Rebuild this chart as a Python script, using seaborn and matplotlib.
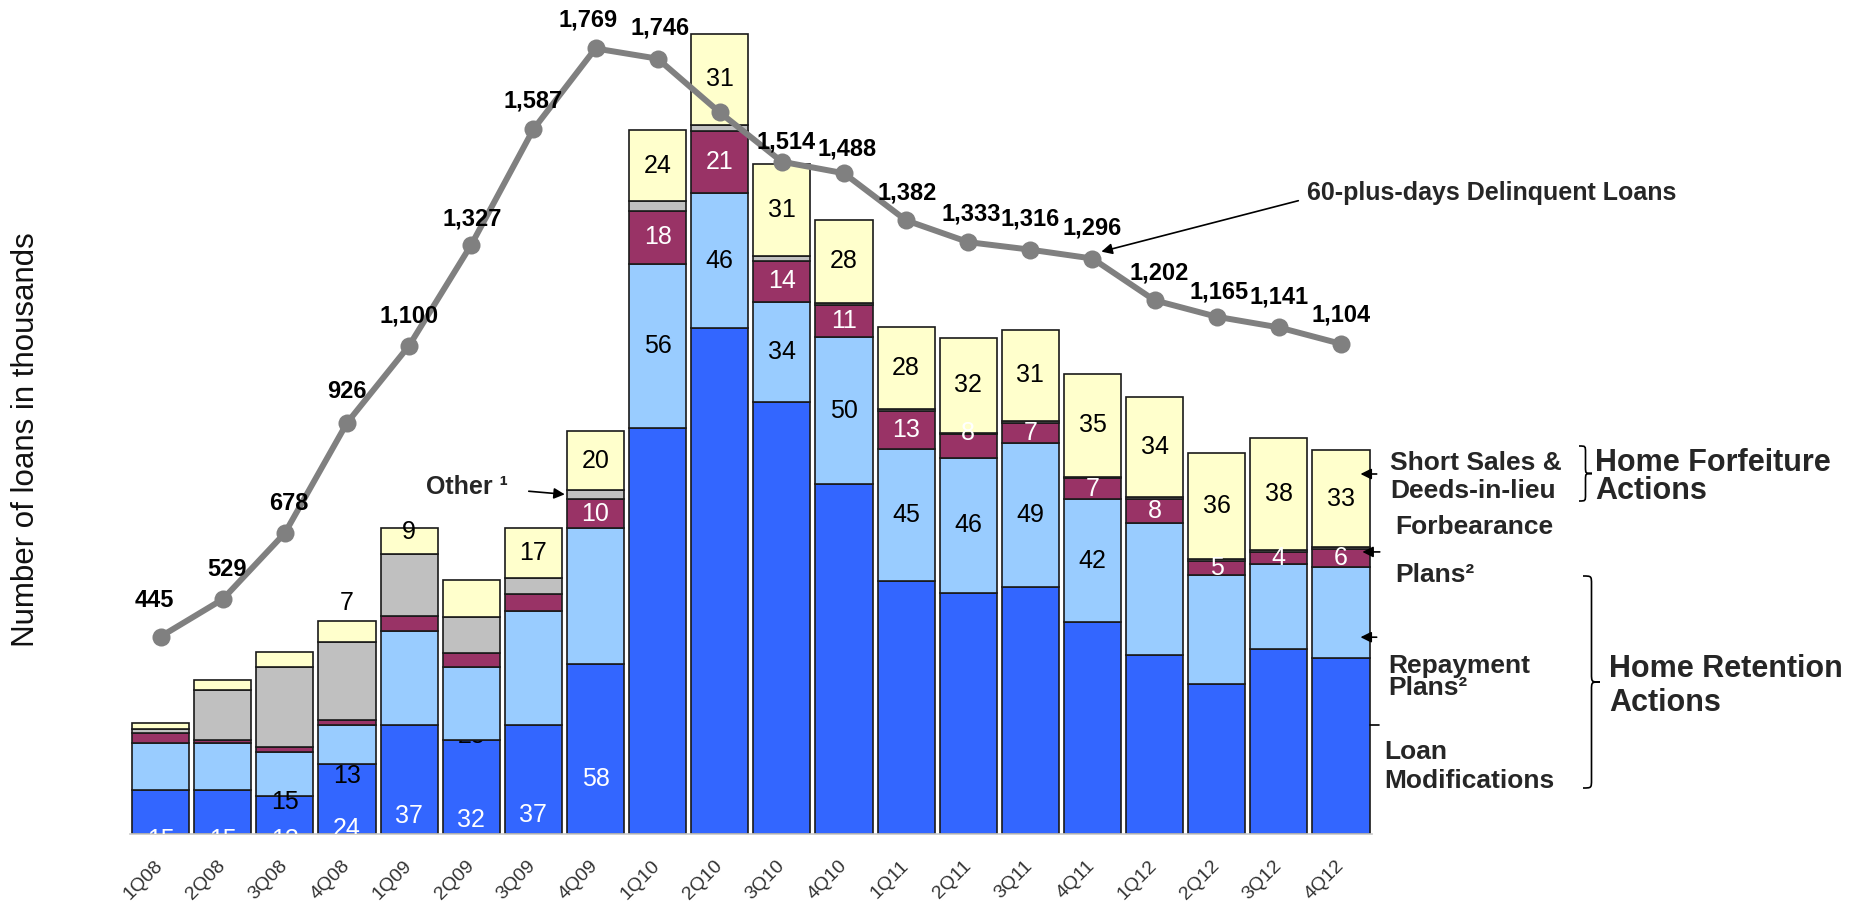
import numpy as np
import pandas as pd
import matplotlib
matplotlib.use("Agg")
import matplotlib.pyplot as plt
import seaborn as sns
from matplotlib.path import Path
from matplotlib.patches import PathPatch

# ---- data (loans in thousands) ----
quarters = ["1Q08", "2Q08", "3Q08", "4Q08", "1Q09", "2Q09", "3Q09", "4Q09",
            "1Q10", "2Q10", "3Q10", "4Q10", "1Q11", "2Q11", "3Q11", "4Q11",
            "1Q12", "2Q12", "3Q12", "4Q12"]
loan_modifications = [15, 15, 13, 24, 37, 32, 37, 58, 138, 172, 147, 119, 86, 82, 84, 72, 61, 51, 63, 60]
repayment_plans = [16, 16, 15, 13, 32, 25, 39, 46, 56, 46, 34, 50, 45, 46, 49, 42, 45, 37, 29, 31]
forbearance_plans = [3.5, 1.2, 1.7, 2, 5.3, 4.6, 5.7, 10, 18, 21, 14, 11, 13, 8, 7, 7, 8, 5, 4, 6]
other_actions = [1.2, 17, 27.3, 26.4, 21, 12.4, 5.3, 3, 3.4, 2.3, 1.8, 0.8, 0.6, 0.6, 0.6, 0.6, 0.6, 0.6, 0.6, 0.6]
short_sales_dil = [2.1, 3.3, 5.1, 7, 9, 12.4, 17, 20, 24, 31, 31, 28, 28, 32, 31, 35, 34, 36, 38, 33]
delinquent_60plus = [445, 529, 678, 926, 1100, 1327, 1587, 1769, 1746, 1625, 1514, 1488,
                     1382, 1333, 1316, 1296, 1202, 1165, 1141, 1104]

# which segments carry a value label
lm_labeled = [0, 1, 2, 3, 4, 5, 6, 7]
rp_labeled = [2, 3, 5, 8, 9, 10, 11, 12, 13, 14, 15]
fb_labeled = list(range(7, 20))
ss_labeled = [3, 4, 6] + list(range(7, 20))
delinquent_labeled = [i for i in range(20) if i != 9]

# ---- styling ----
W, H, DPI = 1866, 906, 100
C_LM = "#3366FF"
C_RP = "#99CCFF"
C_FB = "#993366"
C_OT = "#C0C0C0"
C_SS = "#FFFFCC"
C_LINE = "#808080"
EDGE = "#1a1a1a"

sns.set_style("white")
plt.rcParams["font.family"] = ["Liberation Sans", "DejaVu Sans"]

df = pd.DataFrame({
    "quarter": quarters,
    "lm": loan_modifications,
    "rp": repayment_plans,
    "fb": forbearance_plans,
    "ot": other_actions,
    "ss": short_sales_dil,
    "dq": delinquent_60plus,
})

fig = plt.figure(figsize=(W / DPI, H / DPI), dpi=DPI)
x_left, x_right, base_y = 129.6, 1372.0, 834.2
ax = fig.add_axes([x_left / W, (H - base_y) / H, (x_right - x_left) / W, base_y / H])

series = [("lm", C_LM, 2), ("rp", C_RP, 3), ("fb", C_FB, 3), ("ot", C_OT, 3), ("ss", C_SS, 3)]
bottom = np.zeros(len(df))
bottoms = {}
for key, col, z in series:
    bottoms[key] = bottom.copy()
    sns.barplot(data=df, x="quarter", y=key, color=col, saturation=1, width=0.92,
                edgecolor=EDGE, linewidth=1.2, errorbar=None, ax=ax,
                bottom=bottom.copy(), zorder=z)
    bottom = bottom + df[key].to_numpy()

BAR_TOP = 283.7
ax.set_xlim(-0.5, 19.5)
ax.set_ylim(0, BAR_TOP)
ax.set_xlabel("")
ax.set_ylabel("")
ax.set_yticks([])
for s in ["left", "right", "top"]:
    ax.spines[s].set_visible(False)
ax.spines["bottom"].set_color("#C8C8C8")
ax.spines["bottom"].set_linewidth(1.2)
ax.set_xticks(range(len(quarters)))
ax.set_xticklabels(quarters, rotation=45, ha="right", va="center",
                   rotation_mode="anchor", fontsize=14, color="#333333")
ax.tick_params(axis="x", which="major", length=0, pad=21)
ax.set_xticks(np.arange(-0.5, 20, 1), minor=True)
ax.tick_params(axis="x", which="minor", length=8, width=1, color="#C8C8C8", direction="out")

# ---- value labels inside the bars ----
label_y = {
    ("lm", 0): -1.9, ("lm", 1): -1.9, ("lm", 2): -1.9, ("lm", 3): 1.7,
    ("lm", 4): 6.3, ("lm", 5): 4.8, ("lm", 6): 6.6, ("lm", 7): 18.7,
    ("rp", 2): 10.8, ("rp", 3): 19.9, ("rp", 5): 33.5,
    ("ss", 3): 78.6, ("ss", 4): 102.8,
    ("fb", 13): 136.5,
}
label_groups = [("lm", lm_labeled, "white"), ("rp", rp_labeled, "black"),
                ("fb", fb_labeled, "white"), ("ss", ss_labeled, "black")]
for key, idxs, tcol in label_groups:
    vals = df[key].to_numpy()
    for i in idxs:
        y = label_y.get((key, i), bottoms[key][i] + vals[i] / 2)
        z = 2.5 if (key, i) == ("rp", 5) else 10
        ax.text(i, y, f"{vals[i]:.0f}", ha="center", va="center", fontsize=18,
                color=tcol, zorder=z, clip_on=True)

# ---- delinquent loans line ----
ax2 = ax.twinx()
sns.lineplot(x=np.arange(len(df)), y=df["dq"], ax=ax2, color=C_LINE, linewidth=4.3,
             marker="o", markersize=13, markeredgewidth=0, markerfacecolor=C_LINE, zorder=5)
ax2.set_ylim(0, BAR_TOP * 6.62)
ax2.set_xlim(-0.5, 19.5)
ax2.set_yticks([])
ax2.set_ylabel("")
for s in ax2.spines.values():
    s.set_visible(False)

nudges = [(-6, 36), (4, 30), (4, 30), (0, 31), (0, 30), (1, 26), (0, 28), (-7, 28),
          (2, 31), (0, 30), (4, 20), (3, 24), (1, 27), (3, 28), (0, 31), (0, 31),
          (5, 27), (2, 25), (0, 30), (0, 29)]
for i in delinquent_labeled:
    v = delinquent_60plus[i]
    ax2.annotate(f"{v:,}", xy=(i, v), xytext=nudges[i], textcoords="offset pixels",
                 ha="center", va="center", fontsize=17, fontweight="bold", color="black",
                 zorder=8)

arrow = dict(arrowstyle="-|>", color="black", lw=1.2, mutation_scale=16)

ax2.annotate("", xy=(15.1, 1310), xytext=(1301, H - 200), textcoords="figure pixels",
             arrowprops=arrow)
fig.text(1307 / W, 1 - 193 / H, "60-plus-days Delinquent Loans", fontsize=18,
         fontweight="bold", ha="left", va="center")

# ---- "Other" callout ----
fig.text(426 / W, 1 - 487 / H, "Other ¹", fontsize=18, fontweight="bold", ha="left", va="center")
ax.annotate("", xy=(6.55, 115.5), xytext=(526, H - 491), textcoords="figure pixels",
            arrowprops=arrow, zorder=12)

# ---- right-hand legend text and pointers ----
ax.annotate("", xy=(19.27, 122.5), xytext=(19.62, 122.5), arrowprops=arrow,
            annotation_clip=False, zorder=12)
ax.annotate("", xy=(19.3, 96), xytext=(19.67, 96), arrowprops=arrow,
            annotation_clip=False, zorder=12)
ax.annotate("", xy=(19.27, 67), xytext=(19.62, 67), arrowprops=arrow,
            annotation_clip=False, zorder=12)
ax.plot([19.47, 19.62], [37, 37], color="black", lw=1.2, clip_on=False, zorder=12)

legend_text = [
    (1390, 463, "Short Sales &", 19),
    (1390, 491, "Deeds-in-lieu", 19),
    (1395, 527, "Forbearance", 19),
    (1395, 575, "Plans²", 19),
    (1388, 666, "Repayment", 19),
    (1388, 688, "Plans²", 19),
    (1384, 752, "Loan", 19),
    (1384, 781, "Modifications", 19),
    (1595, 463, "Home Forfeiture", 22),
    (1595, 491, "Actions", 22),
    (1609, 669, "Home Retention", 22),
    (1609, 703, "Actions", 22),
]
for px, py, txt, fs in legend_text:
    fig.text(px / W, 1 - py / H, txt, fontsize=fs, fontweight="bold", ha="left", va="center")


def brace(x0, y_top, y_bot, w, lw=1.2):
    """Right-pointing curly brace in figure pixel coordinates (y down)."""
    xm = x0 + w * 0.5
    ym = (y_top + y_bot) / 2
    r = min(w * 0.5, (y_bot - y_top) * 0.25)
    pts = [
        (x0, y_top), (xm, y_top), (xm, y_top), (xm, y_top + r),
        (xm, ym - r),
        (xm, ym), (xm, ym), (x0 + w, ym),
        (xm, ym), (xm, ym), (xm, ym + r),
        (xm, y_bot - r),
        (xm, y_bot), (xm, y_bot), (x0, y_bot),
    ]
    codes = [Path.MOVETO, Path.CURVE4, Path.CURVE4, Path.CURVE4,
             Path.LINETO,
             Path.CURVE4, Path.CURVE4, Path.CURVE4,
             Path.CURVE4, Path.CURVE4, Path.CURVE4,
             Path.LINETO,
             Path.CURVE4, Path.CURVE4, Path.CURVE4]
    verts = [(px / W, 1 - py / H) for px, py in pts]
    fig.add_artist(PathPatch(Path(verts, codes), transform=fig.transFigure,
                             fill=False, edgecolor="black", lw=lw))


brace(1579, 446, 501, 13)
brace(1583, 576, 788, 17)

fig.text(26 / W, 1 - 440 / H, "Number of loans in thousands", rotation=90, fontsize=22.5,
         ha="center", va="center", color="#111111")

fig.savefig("out.png", dpi=DPI, facecolor="white")
